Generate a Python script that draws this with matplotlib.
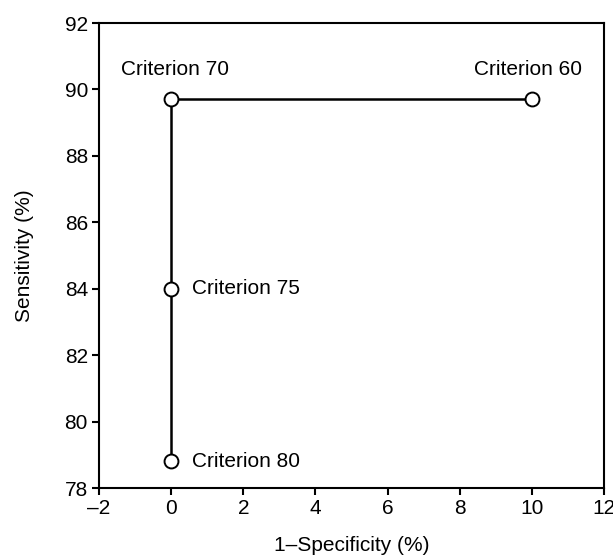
import matplotlib
matplotlib.use("Agg")
import matplotlib.pyplot as plt

plt.rcParams['font.family'] = ['Liberation Sans', 'DejaVu Sans']

fpr = [0, 0, 0, 10]
sens = [78.8, 84.0, 89.7, 89.7]
labels = ["Criterion 80", "Criterion 75", "Criterion 70", "Criterion 60"]
xticks = [-2, 0, 2, 4, 6, 8, 10, 12]
yticks = [78, 80, 82, 84, 86, 88, 90, 92]

fig = plt.figure(figsize=(6.13, 5.56), dpi=100)
ax = fig.add_axes([0.1615, 0.1223, 0.8238, 0.8363])
ax.plot(fpr, sens, color='black', lw=1.8, marker='o', ms=10,
        mfc='white', mec='black', mew=1.4, zorder=3)

offsets = {"Criterion 80": (15, 0, 'left', 'center'),
           "Criterion 75": (15, 0, 'left', 'center'),
           "Criterion 70": (3, 15, 'center', 'bottom'),
           "Criterion 60": (-3, 15, 'center', 'bottom')}
for x, y, lab in zip(fpr, sens, labels):
    dx, dy, ha, va = offsets[lab]
    ax.annotate(lab, (x, y), xytext=(dx, dy), textcoords='offset points',
                ha=ha, va=va, fontsize=15)

ax.set_xlim(-2, 12)
ax.set_ylim(78, 92)
ax.set_xticks(xticks)
ax.set_yticks(yticks)
ax.set_xticklabels([f"{t}".replace('-', '\u2013') for t in xticks])
ax.tick_params(direction='out', length=5, width=1.5, labelsize=15, pad=3)
for s in ax.spines.values():
    s.set_linewidth(1.5)
ax.set_xlabel("1\u2013Specificity (%)", fontsize=15, labelpad=13)
ax.set_ylabel("Sensitivity (%)", fontsize=15, labelpad=22)

fig.savefig("out.png", dpi=100)
